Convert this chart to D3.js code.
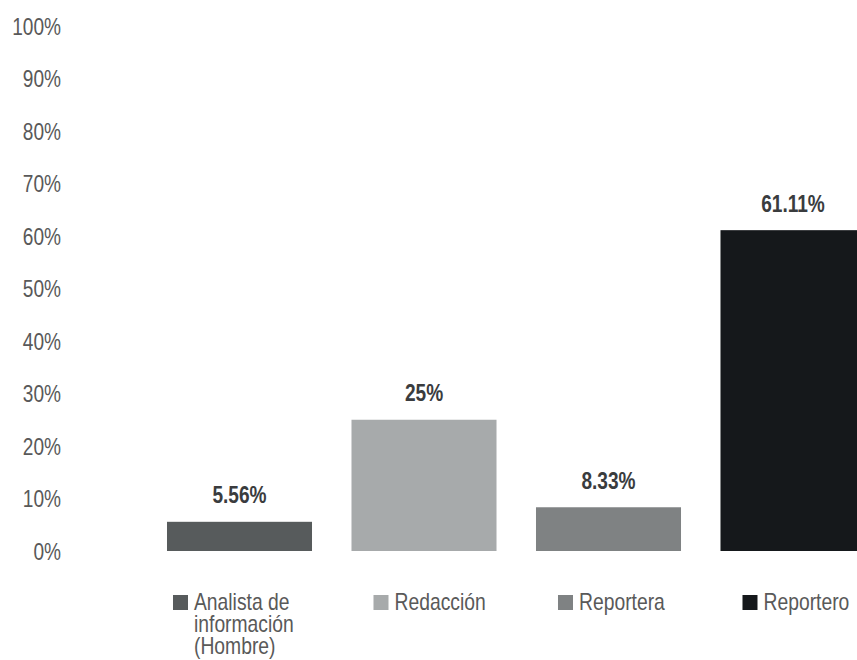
<!DOCTYPE html>
<html><head><meta charset="utf-8">
<script src="https://cdn.jsdelivr.net/npm/d3@7/dist/d3.min.js"></script>
<style>body{margin:0;background:#fff}svg{display:block;font-family:"Liberation Sans",Arial,sans-serif}</style>
</head><body><svg id="c" width="857" height="660"></svg>
<script>
const categories = ["Analista de información (Hombre)", "Redacción", "Reportera", "Reportero"];
const legendLines = [["Analista de", "información", "(Hombre)"], ["Redacción"], ["Reportera"], ["Reportero"]];
const values = [5.56, 25, 8.33, 61.11];
const valueLabels = ["5.56%", "25%", "8.33%", "61.11%"];
const colors = ["#575b5c", "#a7aaab", "#7f8283", "#15181b"];
const tickValues = [0, 10, 20, 30, 40, 50, 60, 70, 80, 90, 100];

const NARROW = 0.83;
const svg = d3.select("#c");
const x = d3.scaleBand().domain(categories).range([147.25, 885.25]).paddingInner(0.214).paddingOuter(0.107);
const y = d3.scaleLinear().domain([0, 100]).range([551, 26]);

const yAxis = d3.axisLeft(y).tickValues(tickValues).tickFormat(d => d + "%").tickSize(0).tickPadding(0);
const ga = svg.append("g").attr("transform", "translate(61,0)").call(yAxis);
ga.select(".domain").remove();
ga.attr("font-family", null);
ga.selectAll("text").attr("font-size", 23).attr("fill", "#595959").attr("x", 0).attr("dy", "0.35em")
  .attr("transform", `scale(${NARROW},1)`);

svg.selectAll("rect.bar").data(categories).join("rect").attr("class", "bar")
  .attr("x", d => x(d)).attr("width", x.bandwidth())
  .attr("y", (d, i) => y(values[i])).attr("height", (d, i) => y(0) - y(values[i]))
  .attr("fill", (d, i) => colors[i]);

svg.selectAll("g.val").data(categories).join("g").attr("class", "val")
  .attr("transform", (d, i) => `translate(${x(d) + x.bandwidth() / 2},${y(values[i]) - 18.5}) scale(${NARROW},1)`)
  .append("text")
  .attr("text-anchor", "middle").attr("font-size", 23).attr("font-weight", "bold").attr("fill", "#3a3c3e")
  .text((d, i) => valueLabels[i]);

const lg = svg.selectAll("g.leg").data(categories).join("g").attr("class", "leg")
  .attr("transform", (d, i) => `translate(${x(d) + (legendLines[i].length > 1 ? 6 : 22)},595)`);
lg.append("rect").attr("width", 15).attr("height", 15).attr("fill", (d, i) => colors[i]);
lg.each(function(d, i) {
  const t = d3.select(this).append("text").attr("transform", `translate(21,15) scale(0.84,1)`)
    .attr("font-size", 23).attr("fill", "#595959");
  legendLines[i].forEach((l, j) => t.append("tspan").attr("x", 0).attr("dy", j === 0 ? 0 : 22).text(l));
});
</script></body></html>
